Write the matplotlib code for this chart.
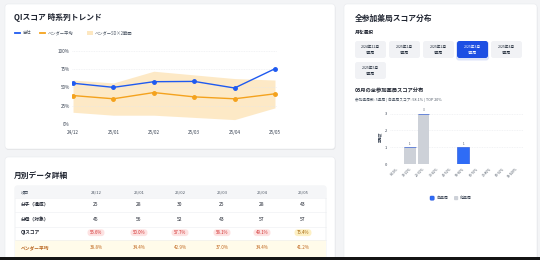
import matplotlib
matplotlib.use("Agg")
import matplotlib.pyplot as plt
from matplotlib.patches import FancyBboxPatch, Rectangle
from matplotlib.lines import Line2D

plt.rcParams['font.family'] = ['Noto Sans CJK JP', 'DejaVu Sans']

# --- data ---
months = ['24/12', '25/01', '25/02', '25/03', '25/04', '25/05']
own_score = [55.6, 50.0, 57.7, 58.1, 49.1, 75.4]
vendor_avg = [38.8, 34.4, 42.9, 37.0, 34.4, 41.2]
band_upper = [60, 56, 72, 67, 62, 60]
band_lower = [16, 12, 12, 9, 6, 22]

numerators = [25, 28, 30, 25, 28, 43]
denominators = [45, 56, 52, 43, 57, 57]

month_buttons = ['2024年12月', '2025年1月', '2025年2月', '2025年3月', '2025年4月', '2025年5月']
pharmacy_counts = [5, 5, 5, 5, 5, 5]
selected_month = 3

bins = ['0-10%', '10-20%', '20-30%', '30-40%', '40-50%',
        '50-60%', '60-70%', '70-80%', '80-90%', '90-100%']
own_counts = [0, 0, 0, 0, 0, 1, 0, 0, 0, 0]
other_counts = [0, 1, 3, 0, 0, 0, 0, 0, 0, 0]

# --- colours ---
BLUE = '#1f5af0'
ORANGE = '#f4a21d'
BAND = '#fde7c0'
GREY_BAR = '#cdd1d8'
TXT = '#1f2430'
SUB = '#4b5563'

W, H = 540, 260
fig = plt.figure(figsize=(W / 100, H / 100), dpi=100)
fig.patch.set_facecolor('#f3f4f6')

bg = fig.add_axes([0, 0, 1, 1])
bg.set_xlim(0, W)
bg.set_ylim(H, 0)
bg.axis('off')


def box(x0, y0, x1, y1):
    return [x0 / W, 1 - y1 / H, (x1 - x0) / W, (y1 - y0) / H]


def card(x0, y0, x1, y1):
    bg.add_patch(FancyBboxPatch((x0 + 0.5, y0 + 1), x1 - x0, y1 - y0,
                                boxstyle='round,pad=0,rounding_size=3',
                                fc='#000000', ec='none', alpha=0.06))
    bg.add_patch(FancyBboxPatch((x0, y0), x1 - x0, y1 - y0,
                                boxstyle='round,pad=0,rounding_size=3',
                                fc='white', ec='#e8eaee', lw=0.4))


card(5, 4, 335, 149)
card(5, 157, 335, 268)
card(344, 4, 537, 268)
bg.add_patch(Rectangle((0, 257), W, 3, fc='#141414', ec='none', zorder=10))

# --- card 1: trend ---
bg.text(14, 18, 'QIスコア 時系列トレンド', fontsize=5.6, fontweight='bold',
        color=TXT, va='center')
bg.add_line(Line2D([15, 20], [33, 33], color=BLUE, lw=1.3))
bg.text(22.5, 33, '自社', fontsize=3.1, color=SUB, va='center')
bg.add_line(Line2D([40, 45], [33, 33], color=ORANGE, lw=1.3))
bg.text(47.5, 33, 'ベンダー平均', fontsize=3.1, color=SUB, va='center')
bg.add_patch(Rectangle((87, 31), 6, 4, fc=BAND, ec='none'))
bg.text(95, 33, 'ベンダーSD×2範囲', fontsize=3.1, color=SUB, va='center')

ax = fig.add_axes(box(72, 50.7, 277, 124))
ax.patch.set_alpha(0)
x = list(range(len(months)))
ax.fill_between(x, band_lower, band_upper, color=BAND, lw=0, alpha=0.9)
ax.plot(x, vendor_avg, color=ORANGE, lw=1.0, marker='o', ms=2.5)
ax.plot(x, own_score, color=BLUE, lw=1.0, marker='o', ms=2.5)
ax.set_xlim(-0.025, 5.05)
ax.set_ylim(0, 100)
ax.set_yticks([0, 25, 50, 75, 100])
ax.set_yticklabels([f'{v}%' for v in [0, 25, 50, 75, 100]])
ax.set_xticks(x)
ax.set_xticklabels(months)
ax.tick_params(length=0, labelsize=3.3, labelcolor='#374151')
ax.tick_params(axis='y', pad=1.5)
ax.tick_params(axis='x', pad=4.5)
ax.grid(axis='y', color='#e5e7eb', lw=0.4, ls=(0, (1.5, 1.5)))
for s in ax.spines.values():
    s.set_visible(False)

# --- card 2: table ---
bg.text(14, 175, '月別データ詳細', fontsize=5.6, fontweight='bold',
        color=TXT, va='center')
tx0, tx1 = 15, 326
bg.add_patch(FancyBboxPatch((tx0, 186), tx1 - tx0, 80,
                            boxstyle='round,pad=0,rounding_size=2',
                            fc='white', ec='#e5e7eb', lw=0.4))
bg.add_patch(Rectangle((tx0 + 0.3, 186.3), tx1 - tx0 - 0.6, 11.7, fc='#f5f6f8', ec='none'))
bg.add_patch(Rectangle((tx0 + 0.3, 240), tx1 - tx0 - 0.6, 20, fc='#fffbea', ec='none'))
for yl in [198, 212, 226.5, 240]:
    bg.add_line(Line2D([tx0, tx1], [yl, yl], color='#eceef1', lw=0.4))

col_x = [96, 139, 180, 222, 262, 303]
row_y = [204.3, 219.3, 232.7, 247.3]
bg.text(21, 192, '項目', fontsize=3.0, color=SUB, va='center')
for cx, m in zip(col_x, months):
    bg.text(cx, 192, m, fontsize=3.0, color=SUB, va='center', ha='center')

row_labels = ['分子（達成）', '分母（対象）', 'QIスコア', 'ベンダー平均']
for i, lab in enumerate(row_labels):
    c = '#b8621a' if i == 3 else TXT
    bg.text(21, row_y[i], lab, fontsize=3.4, fontweight='bold', color=c, va='center')

for j, cx in enumerate(col_x):
    bg.text(cx, row_y[0], str(numerators[j]), fontsize=3.6, color=TXT,
            va='center', ha='center')
    bg.text(cx, row_y[1], str(denominators[j]), fontsize=3.6, color=TXT,
            va='center', ha='center')
    score = own_score[j]
    if score >= 70:
        fc, tc = '#fdf0c4', '#a16207'
    else:
        fc, tc = '#fde2e2', '#d12c2c'
    bg.add_patch(FancyBboxPatch((cx - 8.5, row_y[2] - 3.4), 17, 6.8,
                                boxstyle='round,pad=0,rounding_size=3.4',
                                fc=fc, ec='none'))
    bg.text(cx, row_y[2], f'{score:.1f}%', fontsize=3.1, color=tc,
            va='center', ha='center')
    bg.text(cx, row_y[3], f'{vendor_avg[j]:.1f}%', fontsize=3.3, color='#c0651b',
            va='center', ha='center')

# --- card 3: distribution ---
bg.text(355, 18, '全参加薬局スコア分布', fontsize=5.6, fontweight='bold',
        color=TXT, va='center')
bg.text(355, 32, '月を選択', fontsize=3.4, fontweight='bold', color=TXT, va='center')

bw, bh = 31, 17
for k, (lab, cnt) in enumerate(zip(month_buttons, pharmacy_counts)):
    r, c = divmod(k, 5)
    bx = 355 + c * 34
    by = 41 + r * 21
    sel = k == selected_month
    if sel:
        bg.add_patch(FancyBboxPatch((bx - 1, by), bw + 2, bh + 2.5,
                                    boxstyle='round,pad=0,rounding_size=3',
                                    fc='#1d4ed8', ec='none', alpha=0.15))
    bg.add_patch(FancyBboxPatch((bx, by), bw, bh,
                                boxstyle='round,pad=0,rounding_size=2.5',
                                fc='#1d4fe3' if sel else '#f1f2f5', ec='none'))
    tc = 'white' if sel else '#1f2937'
    bg.text(bx + bw / 2, by + 5.5, lab, fontsize=2.6, color=tc, ha='center', va='center')
    bg.text(bx + bw / 2, by + 11.5, f'{cnt}薬局', fontsize=2.6, color=tc,
            ha='center', va='center')

sel_num = months[selected_month].split('/')[1]
bg.text(355, 91, f'{sel_num}月の全参加薬局スコア分布', fontsize=3.8,
        fontweight='bold', color=TXT, va='center')
bg.text(355, 99.5,
        f'参加薬局数: {pharmacy_counts[selected_month]}薬局 | 自薬局スコア: '
        f'{own_score[selected_month]:.1f}% | TOP 20%',
        fontsize=2.7, color=SUB, va='center')

bx_ax = fig.add_axes(box(390, 108.6, 523, 164))
bx_ax.patch.set_alpha(0)
xi = list(range(len(bins)))
bx_ax.bar(xi, other_counts, width=0.86, color=GREY_BAR, ec='none')
bx_ax.bar(xi, own_counts, bottom=other_counts, width=0.86, color='#2f6cf6',
          ec='#1d4ed8', lw=0.4)
for i in xi:
    tot = own_counts[i] + other_counts[i]
    if tot > 0:
        bx_ax.text(i, tot + 0.08, str(tot), fontsize=2.1, color='#374151',
                   ha='center', va='bottom')
bx_ax.set_xlim(-0.5, len(bins) - 0.5)
bx_ax.set_ylim(0, 3.3)
bx_ax.set_yticks([0, 1, 2, 3])
bx_ax.set_xticks(xi)
bx_ax.set_xticklabels(bins, rotation=45, ha='right', rotation_mode='anchor')
bx_ax.tick_params(length=0, labelsize=2.4, labelcolor='#4b5563')
bx_ax.tick_params(axis='y', labelsize=2.9, labelcolor='#374151', pad=2)
bx_ax.tick_params(axis='x', pad=2)
bx_ax.set_ylabel('薬局数', fontsize=2.5, color='#374151', labelpad=2)
bx_ax.grid(axis='y', color='#e5e7eb', lw=0.4, ls=(0, (1.5, 1.5)))
bx_ax.set_axisbelow(True)
for s in bx_ax.spines.values():
    s.set_visible(False)
bx_ax.axhline(0, color='#d1d5db', lw=0.4)

bg.add_patch(FancyBboxPatch((430, 196), 4.2, 4.2, boxstyle='round,pad=0,rounding_size=1',
                            fc='#2f6cf6', ec='#1d4ed8', lw=0.3))
bg.text(436, 198.1, '自薬局', fontsize=2.9, color='#374151', va='center')
bg.add_patch(FancyBboxPatch((454, 196), 4.2, 4.2, boxstyle='round,pad=0,rounding_size=1',
                            fc=GREY_BAR, ec='none'))
bg.text(460, 198.1, '他薬局', fontsize=2.9, color='#374151', va='center')

fig.savefig('out.png', dpi=100, facecolor=fig.get_facecolor())
